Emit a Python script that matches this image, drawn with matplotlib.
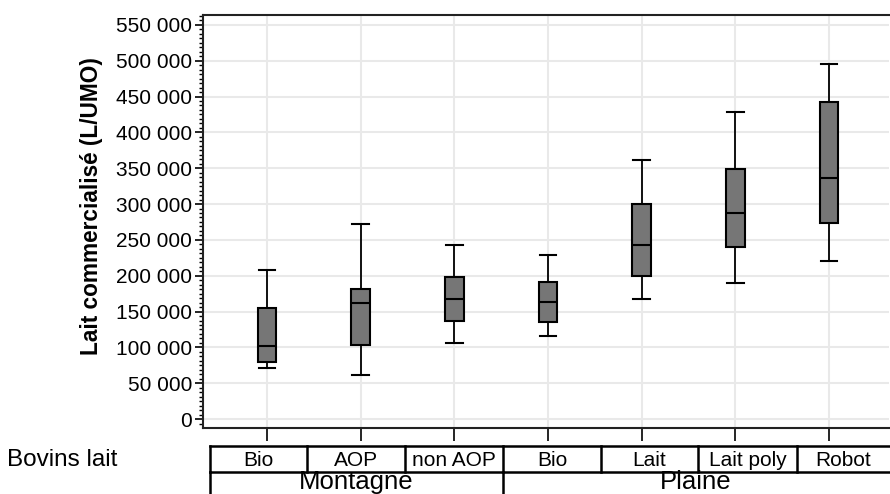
import numpy as np
import matplotlib
matplotlib.use("Agg")
import matplotlib.pyplot as plt
from matplotlib.ticker import MultipleLocator, AutoMinorLocator, FuncFormatter
from matplotlib.lines import Line2D

plt.rcParams['font.family'] = ['Liberation Sans', 'DejaVu Sans']

# data
groupes = ["Bio", "AOP", "non AOP", "Bio", "Lait", "Lait poly", "Robot"]
zones = ["Montagne", "Plaine"]
zone_taille = [3, 4]
wlo = [71600, 61000, 106000, 116000, 167000, 189500, 220000]
q1 = [79600, 104000, 136800, 135000, 200000, 240500, 273600]
med = [102000, 161500, 167100, 163300, 243000, 288000, 336500]
q3 = [155000, 181500, 197800, 191700, 299700, 348500, 442500]
whi = [208000, 272000, 243000, 228500, 361000, 428000, 496000]

stats = []
for i in range(len(groupes)):
    stats.append({"whislo": wlo[i], "q1": q1[i], "med": med[i], "q3": q3[i], "whishi": whi[i], "fliers": []})

fig = plt.figure(figsize=(8.9, 4.94), dpi=100)
W, H = 890.0, 494.0
ax = fig.add_axes([203 / W, 1 - 427.7 / H, 686 / W, 412.2 / H])

ax.bxp(stats, positions=range(len(groupes)), widths=0.2, patch_artist=True, showfliers=False,
       boxprops=dict(facecolor="#767676", edgecolor="black", linewidth=1.5),
       medianprops=dict(color="black", linewidth=1.5),
       whiskerprops=dict(color="black", linewidth=1.3),
       capprops=dict(color="black", linewidth=1.5), capwidths=0.18)

ax.set_xlim(-0.683, 6.64)
ax.set_ylim(-12000, 563000)
ax.yaxis.set_major_locator(MultipleLocator(50000))
ax.yaxis.set_minor_locator(AutoMinorLocator(8))
ax.yaxis.set_major_formatter(FuncFormatter(lambda v, p: "{:,.0f}".format(v).replace(",", " ")))
ax.set_xticks(range(len(groupes)))
ax.set_xticklabels([])
ax.tick_params(axis="y", which="major", length=6, width=1.2, labelsize=15, pad=2)
ax.tick_params(axis="y", which="minor", length=3, width=1)
ax.tick_params(axis="x", length=9, width=1.2)
ax.grid(True, color="#e9e9e9", linewidth=1.5)
ax.set_axisbelow(True)
for s in ["left", "bottom", "top"]:
    ax.spines[s].set_linewidth(1.5)
    ax.spines[s].set_color("#222222")
ax.spines["right"].set_visible(False)
ax.set_ylabel("Lait commercialisé (L/UMO)", fontsize=16.3, fontweight="bold")
ax.yaxis.set_label_coords(-0.146, 0.5366)

# table of categories under the chart
def fx(px):
    return px / W

def fy(py):
    return 1 - py / H

lw = 1.8
cell_x = [210, 307, 405, 503, 601, 698, 797, 889]
top, mid, bot = 445.7, 471.7, 500
fig.add_artist(Line2D([fx(210), fx(889)], [fy(top), fy(top)], color="black", lw=lw))
fig.add_artist(Line2D([fx(210), fx(889)], [fy(mid), fy(mid)], color="black", lw=lw))
for i, x in enumerate(cell_x[:-1]):
    fig.add_artist(Line2D([fx(x), fx(x)], [fy(top), fy(mid)], color="black", lw=lw))
    fig.text(fx((x + cell_x[i + 1]) / 2), fy(465.7), groupes[i], ha="center", va="baseline", fontsize=15)

start = 0
for z, n in zip(zones, zone_taille):
    x0, x1 = cell_x[start], cell_x[start + n]
    fig.add_artist(Line2D([fx(x0), fx(x0)], [fy(mid), fy(bot)], color="black", lw=lw))
    fig.text(fx((x0 + x1) / 2), fy(488.5), z, ha="center", va="baseline", fontsize=18.5)
    start += n

fig.text(fx(7), fy(466.5), "Bovins lait", ha="left", va="baseline", fontsize=17.5)

fig.savefig("out.png", dpi=100)
